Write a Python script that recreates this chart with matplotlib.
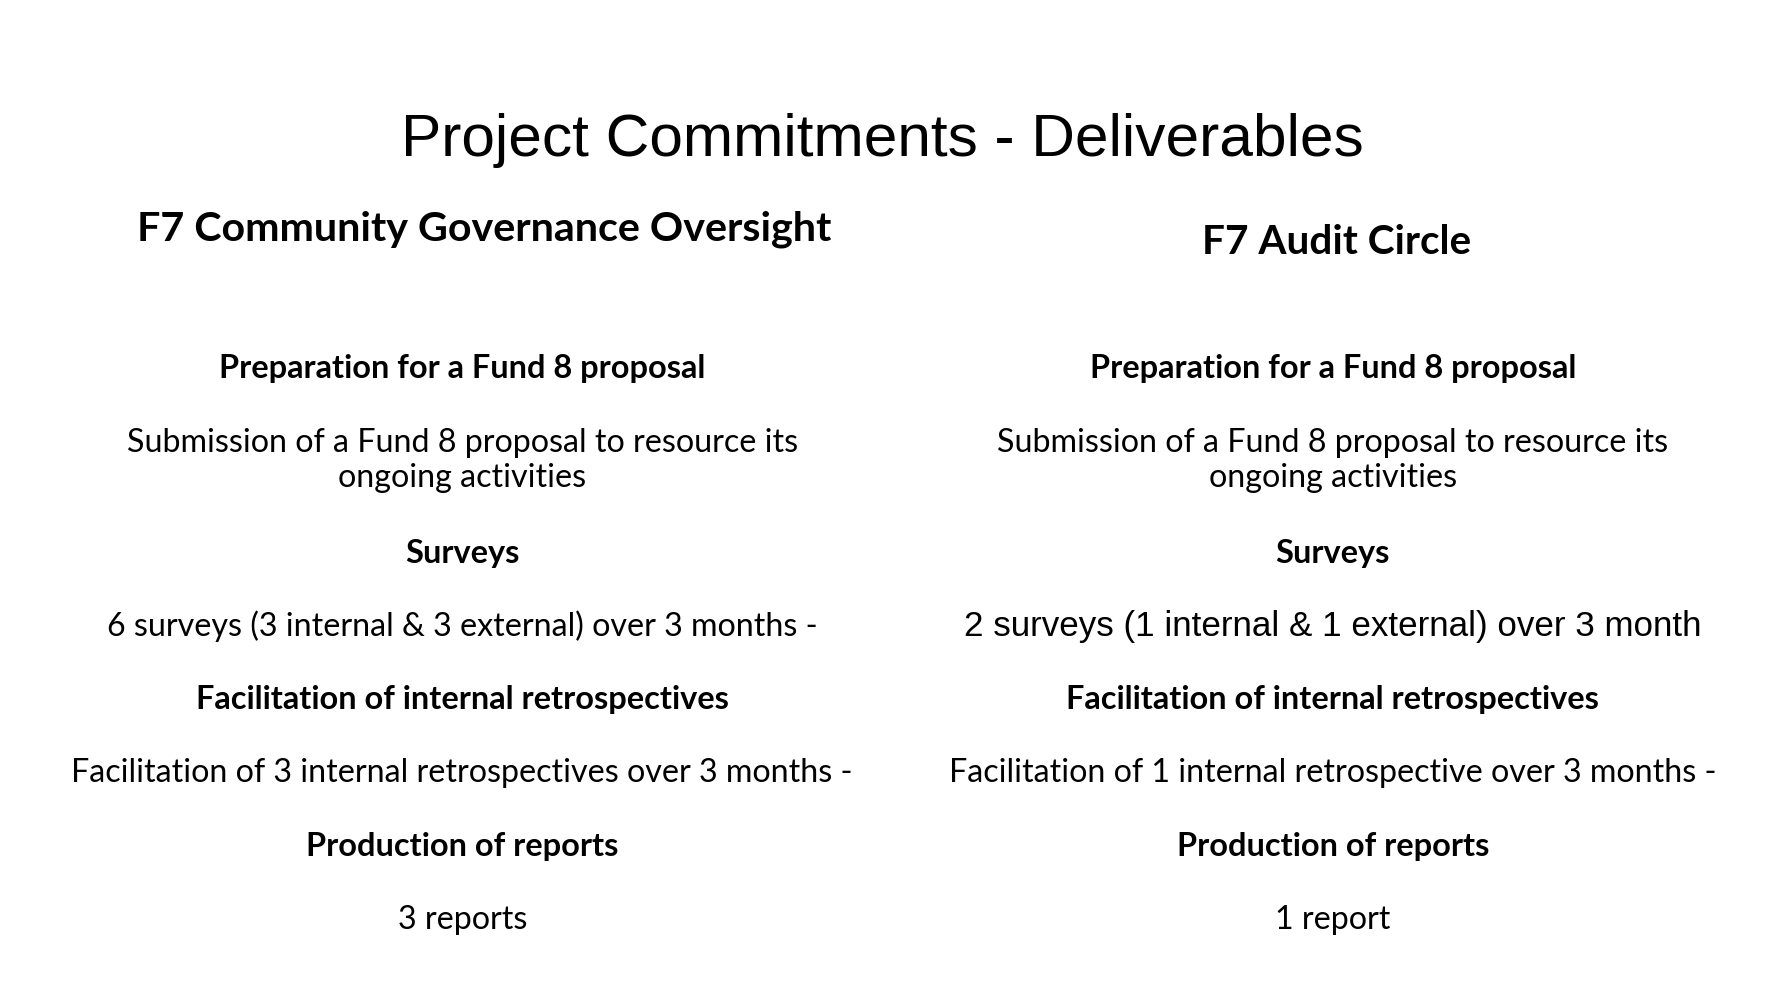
import matplotlib
matplotlib.use("Agg")
import matplotlib.pyplot as plt

title = "Project Commitments - Deliverables"
column_titles = ["F7 Community Governance Oversight", "F7 Audit Circle"]
headings = ["Preparation for a Fund 8 proposal", "Surveys",
            "Facilitation of internal retrospectives", "Production of reports"]
left_details = ["Submission of a Fund 8 proposal to resource its\nongoing activities",
                "6 surveys (3 internal & 3 external) over 3 months -",
                "Facilitation of 3 internal retrospectives over 3 months -",
                "3 reports"]
right_details = ["Submission of a Fund 8 proposal to resource its\nongoing activities",
                 "2 surveys (1 internal & 1 external) over 3 month",
                 "Facilitation of 1 internal retrospective over 3 months -",
                 "1 report"]

W, H = 1787, 991
k = W / 1560.0  # layout measured on a 1560 px wide view

fig = plt.figure(figsize=(W / 100, H / 100), dpi=100)
fig.patch.set_facecolor("white")
renderer = fig.canvas.get_renderer()


def fit_size(text, target_px, **kw):
    """Font size so that text is target_px wide"""
    t = fig.text(0, 0, text, fontsize=10, **kw)
    w = t.get_window_extent(renderer).width
    t.remove()
    return 10 * target_px / w


def put(x, y, text, size, **kw):
    fig.text(x * k / W, 1 - y * k / H, text, fontsize=size,
             ha="center", va="center", color="black", **kw)


sans = ["Liberation Sans", "DejaVu Sans"]
body = ["Lato", "DejaVu Sans"]

title_size = fit_size(title, (1192 - 353 + 4) * k, family=sans)
col_size = fit_size(column_titles[0], (730 - 120 - 1) * k, family=body, weight="bold")
head_size = fit_size(headings[2], (639 - 172) * k, family=body, weight="bold")
text_size = fit_size(left_details[2], (748 - 64 - 2) * k, family=body)
arial_size = fit_size(right_details[1], (1492 - 845 + 1) * k, family=sans)

put(770, 123, title, title_size, family=sans)
put(423, 200, column_titles[0], col_size, family=body, weight="bold")
put(1167, 212, column_titles[1], col_size * 0.98, family=body, weight="bold")

head_y = [322, 483, 611, 739]
detail_y = [402, 547, 675, 803]
centers = [403.5, 1163.5]

for cx, details in zip(centers, [left_details, right_details]):
    for h, d, hy, dy in zip(headings, details, head_y, detail_y):
        put(cx, hy, h, head_size, family=body, weight="bold")
        if d.startswith("2 surveys"):
            put(cx, dy, d, arial_size, family=sans)
        else:
            put(cx, dy, d, text_size, family=body, linespacing=1.2)

fig.savefig("out.png", dpi=100, facecolor="white")
